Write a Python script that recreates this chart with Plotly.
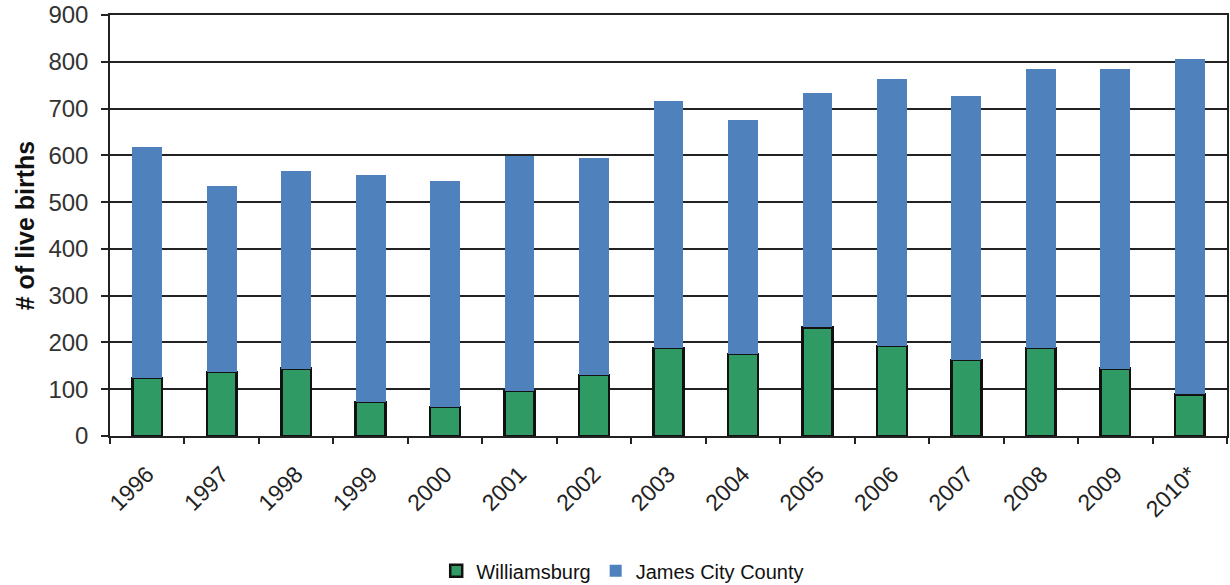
import plotly.graph_objects as go

years = ["1996", "1997", "1998", "1999", "2000", "2001", "2002", "2003",
         "2004", "2005", "2006", "2007", "2008", "2009", "2010*"]
williamsburg = [124, 137, 144, 73, 62, 96, 130, 188, 175, 232, 192, 162, 188, 144, 89]
james_city = [493, 398, 422, 486, 483, 503, 464, 528, 500, 501, 572, 564, 597, 641, 716]

y_ticks = [0, 100, 200, 300, 400, 500, 600, 700, 800, 900]

fig = go.Figure()
fig.add_trace(go.Bar(
    x=years, y=williamsburg, name="Williamsburg",
    marker=dict(color="#2f9a63", line=dict(color="#111111", width=2.5)),
))
fig.add_trace(go.Bar(
    x=years, y=james_city, name="James City County",
    marker=dict(color="#4f81bd", line=dict(width=0)),
))

fig.update_layout(
    width=1230, height=593,
    barmode="stack", bargap=0.6,
    paper_bgcolor="white", plot_bgcolor="white",
    margin=dict(l=110, r=3, t=15, b=151),
    font=dict(family="Liberation Sans, Arial, sans-serif", color="#222222"),
    showlegend=True,
    legend=dict(orientation="h", x=0.459, xanchor="center", y=-0.320, yanchor="middle",
                traceorder="normal", font=dict(size=20, color="#111111"),
                itemwidth=30),
)
fig.update_xaxes(
    type="category", tickangle=-45, tickfont=dict(size=23, color="#222222"),
    showline=True, linecolor="#222222", linewidth=1.5, mirror=True,
    ticks="outside", tickson="boundaries", ticklen=6, tickcolor="#222222", tickwidth=1.5,
    ticklabelstandoff=14,
    showgrid=False, automargin=False,
)
fig.update_yaxes(
    range=[0, 900], tickvals=y_ticks, tickfont=dict(size=24, color="#333333"),
    title=dict(text="<b># of live births</b>", font=dict(size=25, color="#111111"), standoff=7),
    showline=True, linecolor="#222222", linewidth=1.5, mirror=True,
    showgrid=True, gridcolor="#222222", gridwidth=1.5,
    ticks="outside", ticklen=7, tickcolor="#222222", tickwidth=1.5,
    ticklabelstandoff=8,
    zeroline=False, automargin=False,
)

post = (
    "document.body.style.margin='0px';"
    "document.body.style.overflow='hidden';"
    "document.documentElement.style.overflow='hidden';"
)
fig.write_html("out.html", config={"displayModeBar": False}, post_script=post)
